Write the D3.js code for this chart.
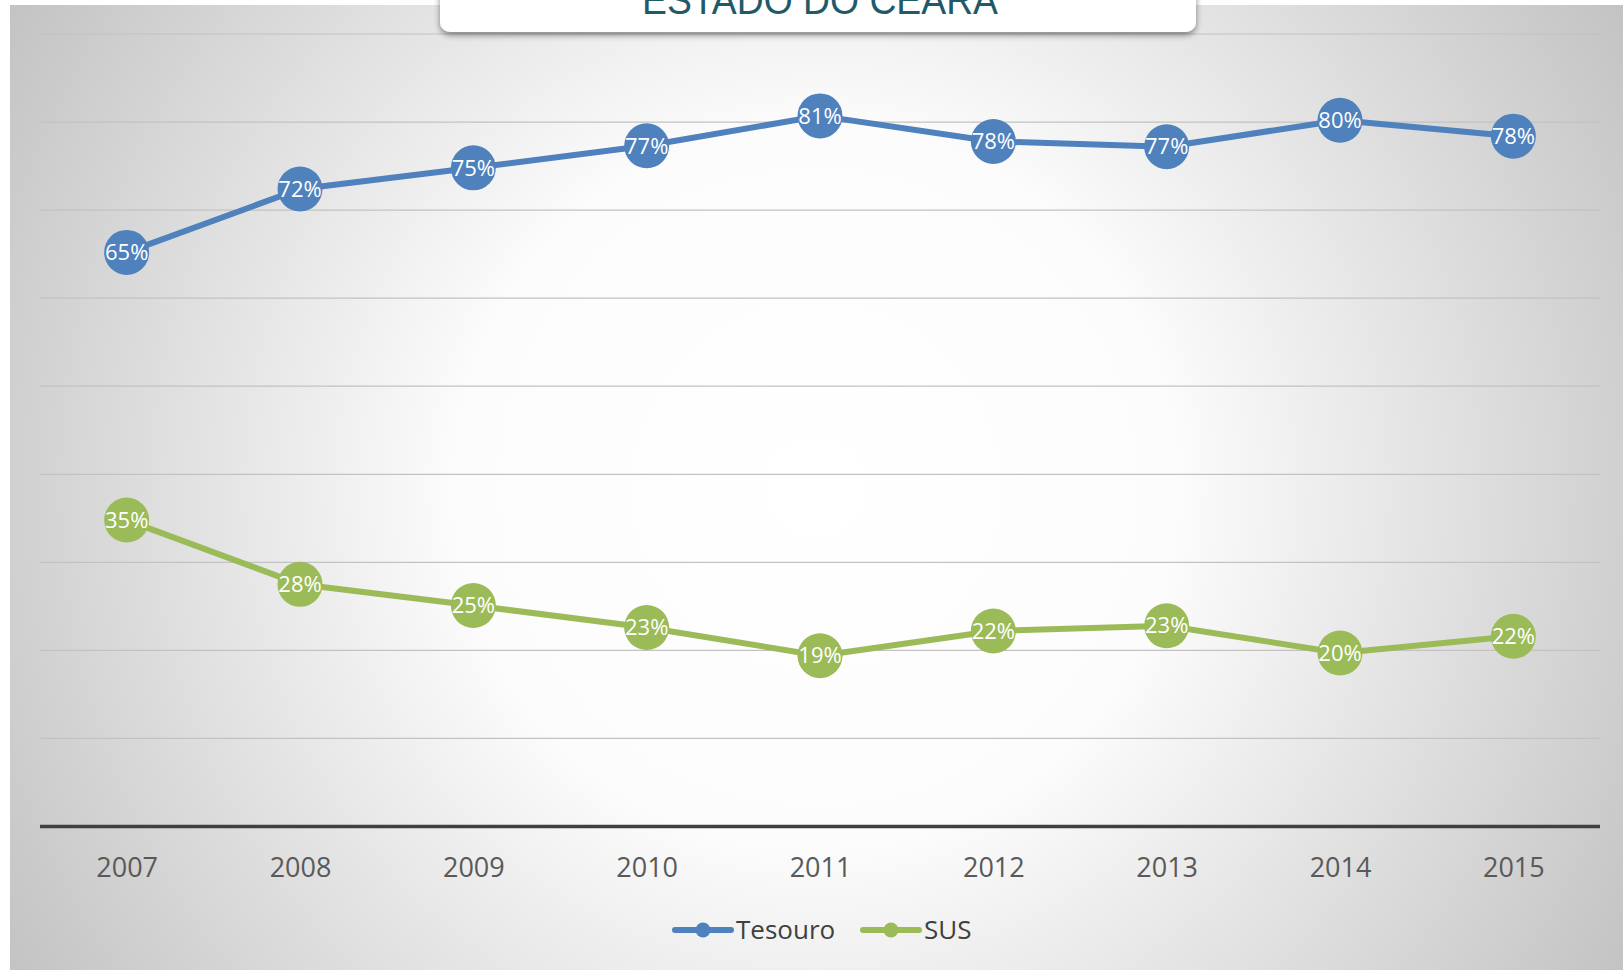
<!DOCTYPE html>
<html>
<head>
<meta charset="utf-8">
<script src="https://cdn.jsdelivr.net/npm/d3@7"></script>
<style>
  html, body { margin: 0; padding: 0; background: #fff; }
  svg { display: block; }
</style>
</head>
<body>
<div class="chart"></div>
<script>
const years = ['2007', '2008', '2009', '2010', '2011', '2012', '2013', '2014', '2015']
const tesouro = [0.652, 0.724, 0.748, 0.773, 0.807, 0.778, 0.772, 0.802, 0.784]
const sus = [0.348, 0.275, 0.251, 0.226, 0.194, 0.222, 0.228, 0.197, 0.216]
const yTicks = [0, 0.1, 0.2, 0.3, 0.4, 0.5, 0.6, 0.7, 0.8, 0.9]
const title = 'ESTADO DO CEARÁ'

const width = 1623
const height = 970

const series = [
  { name: 'Tesouro', values: tesouro, color: '#4f81bd' },
  { name: 'SUS', values: sus, color: '#9bbb59' }
]

let svg = d3.select('.chart')
.append('svg')
.attr('width', width)
.attr('height', height)

let defs = svg.append('defs')

let grad = defs.append('radialGradient')
.attr('id', 'bg')
.attr('gradientUnits', 'userSpaceOnUse')
.attr('cx', 816).attr('cy', 487).attr('r', 940)
grad.append('stop').attr('offset', '0%').attr('stop-color', '#ffffff')
grad.append('stop').attr('offset', '38%').attr('stop-color', '#fcfcfc')
grad.append('stop').attr('offset', '100%').attr('stop-color', '#c3c3c3')

let shadow = defs.append('filter')
.attr('id', 'shadow')
.attr('x', '-5%').attr('y', '-50%').attr('width', '110%').attr('height', '250%')
shadow.append('feDropShadow')
.attr('dx', 0).attr('dy', 3).attr('stdDeviation', 3)
.attr('flood-color', '#000').attr('flood-opacity', 0.45)

// panel
svg.append('rect')
.attr('x', 10).attr('y', 5)
.attr('width', width - 10).attr('height', height - 5)
.attr('fill', 'url(#bg)')

let x = d3.scalePoint()
.domain(years)
.range([40, 1600])
.padding(0.5)

let y = d3.scaleLinear()
.domain([0, 0.9])
.range([826.5, 34])

// gridlines
svg.append('g')
.selectAll('line')
.data(yTicks.slice(1))
.enter()
.append('line')
.attr('x1', 40).attr('x2', 1600)
.attr('y1', d => y(d)).attr('y2', d => y(d))
.attr('stroke', '#c2c2c2')
.attr('stroke-width', 1.2)

// x axis
let xAxis = svg.append('g')
.attr('transform', `translate(0,${y(0)})`)
.call(d3.axisBottom(x).tickSize(0).tickPadding(31))

xAxis.select('.domain')
.attr('d', 'M40,0H1600')
.attr('stroke', '#404040')
.attr('stroke-width', 3.5)

xAxis.selectAll('text')
.attr('font-family', 'Open Sans, sans-serif')
.attr('font-size', 27)
.attr('fill', '#595959')

let line = d3.line()
.x((d, i) => x(years[i]))
.y(d => y(d))

series.forEach(s => {
  let g = svg.append('g')

  g.append('path')
  .datum(s.values)
  .attr('d', line)
  .attr('fill', 'none')
  .attr('stroke', s.color)
  .attr('stroke-width', 6)
  .attr('stroke-linejoin', 'round')

  g.selectAll('circle')
  .data(s.values)
  .enter()
  .append('circle')
  .attr('cx', (d, i) => x(years[i]))
  .attr('cy', d => y(d))
  .attr('r', 22.5)
  .attr('fill', s.color)

  g.selectAll('text')
  .data(s.values)
  .enter()
  .append('text')
  .attr('x', (d, i) => x(years[i]))
  .attr('y', d => y(d))
  .attr('dy', '0.35em')
  .attr('text-anchor', 'middle')
  .attr('font-family', 'Open Sans, sans-serif')
  .attr('font-size', 22)
  .attr('fill', '#fff')
  .text(d => d3.format('.0%')(d))
})

// legend
let legendX = [675, 863]
let legend = svg.append('g')
.selectAll('g')
.data(series)
.enter()
.append('g')
.attr('transform', (d, i) => `translate(${legendX[i]},930)`)

legend.append('line')
.attr('x1', 0).attr('x2', 56)
.attr('stroke', d => d.color)
.attr('stroke-width', 6)
.attr('stroke-linecap', 'round')

legend.append('circle')
.attr('cx', 28).attr('r', 7.5)
.attr('fill', d => d.color)

legend.append('text')
.attr('x', 61)
.attr('dy', '0.35em')
.attr('font-family', 'Open Sans, sans-serif')
.attr('font-size', 26)
.attr('fill', '#404040')
.text(d => d.name)

// title box, cut off at the top as in the source
svg.append('rect')
.attr('x', 440).attr('y', -20)
.attr('width', 756).attr('height', 52)
.attr('rx', 10)
.attr('fill', '#fff')
.attr('filter', 'url(#shadow)')

svg.append('text')
.attr('x', 820).attr('y', 14)
.attr('text-anchor', 'middle')
.attr('font-family', 'Liberation Sans Narrow, Liberation Sans, sans-serif')
.attr('font-size', 40)
.attr('textLength', 356)
.attr('lengthAdjust', 'spacingAndGlyphs')
.attr('fill', '#1f5a69')
.text(title)
</script>
</body>
</html>
